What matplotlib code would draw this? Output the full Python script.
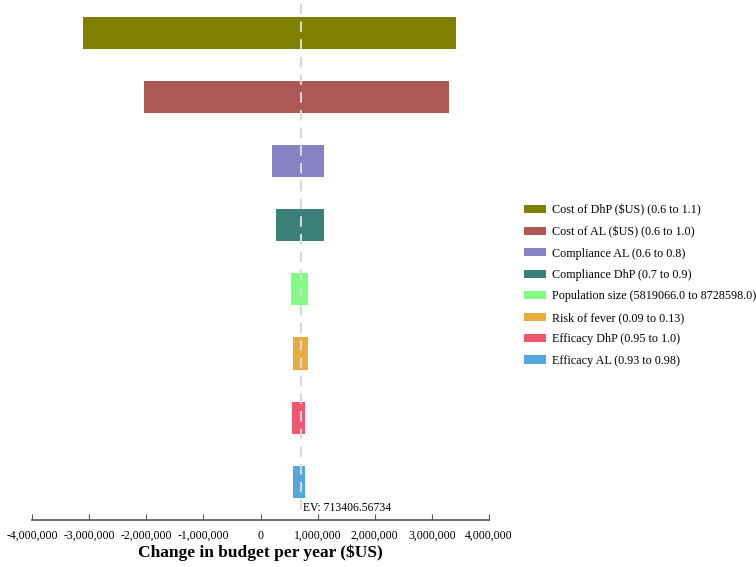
import matplotlib
matplotlib.use("Agg")
import matplotlib.pyplot as plt
from matplotlib.patches import Patch
from matplotlib.ticker import FuncFormatter

labels = ["Cost of DhP ($US) (0.6 to 1.1)", "Cost of AL ($US) (0.6 to 1.0)",
          "Compliance AL (0.6 to 0.8)", "Compliance DhP (0.7 to 0.9)",
          "Population size (5819066.0 to 8728598.0)", "Risk of fever (0.09 to 0.13)",
          "Efficacy DhP (0.95 to 1.0)", "Efficacy AL (0.93 to 0.98)"]
low = [-3100000, -2040000, 197000, 273000, 535000, 570000, 545000, 575000]
high = [3420000, 3300000, 1115000, 1115000, 824000, 836000, 784000, 784000]
colors = ["#808000", "#AD5757", "#8682C4", "#3A7F78", "#82FC82", "#E8AC3C", "#F2566E", "#52A8DE"]
ev = 713406.56734
xticks = [-4000000, -3000000, -2000000, -1000000, 0, 1000000, 2000000, 3000000, 4000000]

plt.rcParams['font.family'] = ['Liberation Serif', 'DejaVu Serif']
fig = plt.figure(figsize=(7.56, 5.67), dpi=100)
ax = fig.add_axes([32/756, 1-520/567, (489-32)/756, 520/567])

for i, (lo, hi, c) in enumerate(zip(low, high, colors)):
    ax.barh(i, hi - lo, left=lo, height=0.5, color=c, edgecolor='none', zorder=2)

ax.axvline(ev, ymin=0.02, color='#D8D8D8', linestyle=(0, (5, 3.5)), linewidth=1.5, zorder=3)
ax.set_ylim(7.6, -0.52)
ax.set_xlim(-4000000, 4000000)
ax.set_xticks(xticks)
ax.xaxis.set_major_formatter(FuncFormatter(lambda v, p: f"{int(v):,}"))
ax.tick_params(axis='x', direction='in', length=4, labelsize=8.5, pad=7, color='#555555')
ax.set_yticks([])
for s in ['left', 'right', 'top']:
    ax.spines[s].set_visible(False)
ax.spines['bottom'].set_color('#555555')
ax.spines['bottom'].set_linewidth(1.2)
ax.set_xlabel("Change in budget per year ($US)", fontsize=12.5, fontweight='bold', labelpad=2)
ax.text(ev + 30000, 7.42, f"EV: {ev}", fontsize=8.4, ha='left', va='center')

handles = [Patch(facecolor=c, edgecolor='none') for c in colors]
fig.legend(handles, labels, loc='center left', bbox_to_anchor=(519/756, 1-285.5/567),
           frameon=False, fontsize=8.7, handlelength=1.8, handleheight=0.66,
           labelspacing=0.78, handletextpad=0.52, borderaxespad=0, borderpad=0.4)

fig.savefig("out.png", dpi=100)
